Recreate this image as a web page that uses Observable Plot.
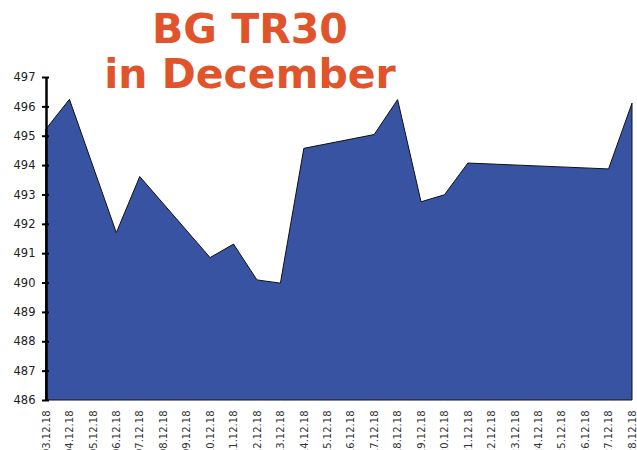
<!DOCTYPE html>
<html>
<head>
<meta charset="utf-8">
<script src="https://cdn.jsdelivr.net/npm/d3@7"></script>
<script src="https://cdn.jsdelivr.net/npm/@observablehq/plot@0.6"></script>
<style>
  html, body { margin: 0; padding: 0; background: #fff; overflow: hidden; }
  #wrap { position: relative; width: 637px; height: 450px; }
  #title { position: absolute; left: 0; top: 7px; width: 500px; text-align: center;
    font-family: "DejaVu Sans", sans-serif; font-weight: bold; font-size: 41px; line-height: 45px;
    color: #E1542B; z-index: 2; pointer-events: none; }
</style>
</head>
<body>
<div id="wrap">
  <div id="title">BG TR30<br>in December</div>
  <div id="chart"></div>
</div>
<script>
const dayLabels = ["03.12.18","04.12.18","05.12.18","06.12.18","07.12.18","08.12.18","09.12.18","10.12.18","11.12.18","12.12.18","13.12.18","14.12.18","15.12.18","16.12.18","17.12.18","18.12.18","19.12.18","20.12.18","21.12.18","22.12.18","23.12.18","24.12.18","25.12.18","26.12.18","27.12.18","28.12.18"];
const tradeDays = ["03.12.18","04.12.18","06.12.18","07.12.18","10.12.18","11.12.18","12.12.18","13.12.18","14.12.18","17.12.18","18.12.18","19.12.18","20.12.18","21.12.18","27.12.18","28.12.18"];
const values = [495.23, 496.24, 491.70, 493.61, 490.85, 491.31, 490.09, 489.98, 494.57, 495.04, 496.23, 492.75, 492.99, 494.07, 493.87, 496.11];
const yTicks = [486, 487, 488, 489, 490, 491, 492, 493, 494, 495, 496, 497];

const data = tradeDays.map((d, i) => ({day: d, value: values[i]}));

const chart = Plot.plot({
  width: 637,
  height: 450,
  marginLeft: 46,
  marginRight: 5,
  marginTop: 77,
  marginBottom: 50,
  style: {fontFamily: "DejaVu Sans, sans-serif", background: "#fff", color: "#222"},
  x: {type: "point", domain: dayLabels, padding: 0, round: false, range: [46, 632], axis: null, label: null},
  y: {domain: [486, 497], range: [400, 77], axis: null, label: null},
  marks: [
    Plot.areaY(data, {x: "day", y1: 486, y2: "value", fill: "#3953a3", stroke: "#111", strokeWidth: 1, curve: "linear"}),
    Plot.ruleX([dayLabels[0]], {stroke: "#000", strokeWidth: 2.5}),
    Plot.axisY({ticks: yTicks, tickFormat: d => String(d), label: null, tickSize: 7, tickPadding: 7, dx: 3, stroke: "#000", strokeWidth: 2, fill: "#222", fontSize: 11.5}),
    Plot.axisX({ticks: dayLabels, label: null, tickSize: 0, tickRotate: -90, tickPadding: 10, fontSize: 10, fill: "#333"})
  ]
});
document.getElementById("chart").appendChild(chart);
</script>
</body>
</html>
